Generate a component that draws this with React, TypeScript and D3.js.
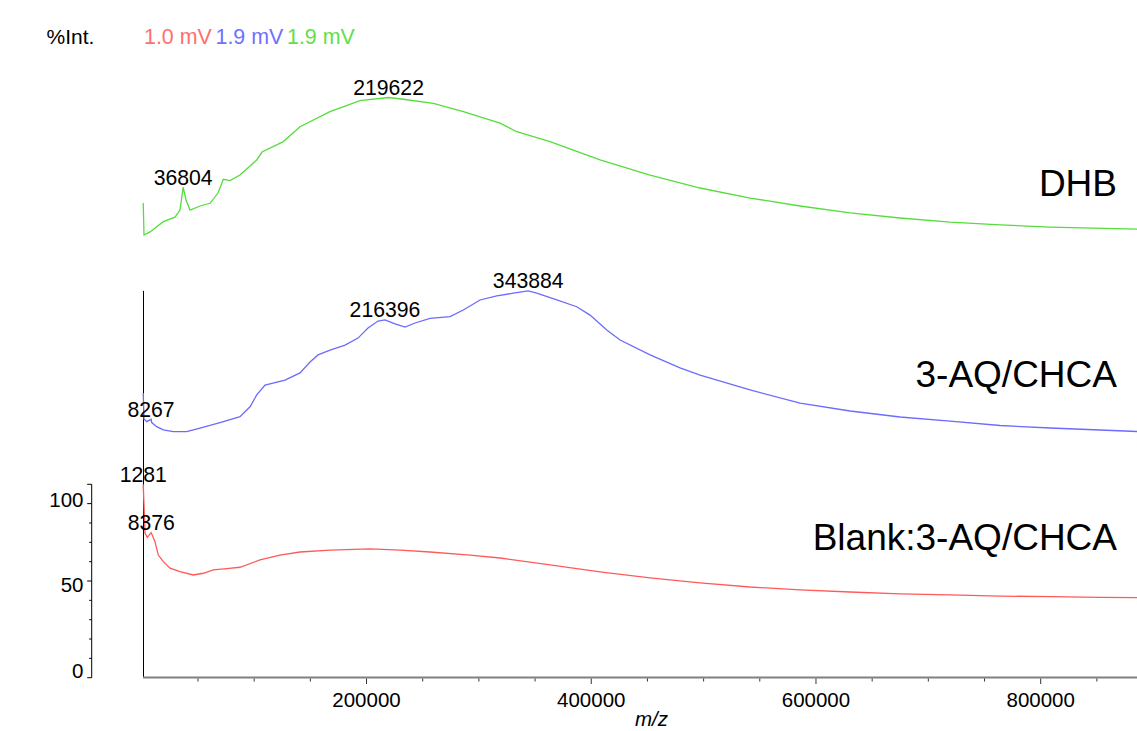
import React from "react";
import * as d3 from "d3";

// ---- data (m/z, %Int per trace) ----
const dhbMz = [1281, 1958, 7299, 19137, 29550, 34001, 36804, 39340, 42902, 51803, 60703, 67824, 72541, 78505, 87406, 102268, 106988, 125946, 140811, 167513, 194215, 219622, 232756, 259458, 286161, 318827, 333691, 363331, 407837, 452343, 496848, 541354, 585860, 630366, 674872, 719377, 763883, 808389, 885807];
const dhbInt = [45.5, 28.9, 30.5, 35.8, 38.1, 41.8, 53.6, 47.0, 41.8, 43.9, 45.3, 50.6, 57.7, 57.0, 59.9, 67.7, 71.8, 77.2, 84.9, 92.7, 98.4, 100, 99.1, 97.0, 92.7, 86.7, 82.3, 77.2, 67.7, 59.9, 53.2, 48.0, 43.9, 40.3, 37.7, 35.6, 34.1, 33.0, 31.9];

const aqMz = [1281, 1958, 4361, 8267, 8812, 13262, 19137, 28038, 39965, 51803, 69604, 87406, 96307, 102268, 109658, 127459, 140811, 149711, 156832, 167513, 180864, 192435, 201336, 210237, 216396, 225368, 234269, 243170, 256521, 274323, 286161, 301025, 315889, 330665, 343884, 351493, 369294, 387096, 398934, 413798, 425636, 452343, 479041, 496848, 541354, 585860, 630366, 674872, 719377, 763883, 808389, 885807];
const aqInt = [47.2, 33.8, 32.4, 33.6, 31.9, 29.8, 28.1, 27.2, 27.2, 29.0, 31.9, 35.0, 40.1, 46.2, 51.3, 53.9, 57.6, 63.2, 66.9, 69.4, 72.0, 75.6, 80.8, 84.4, 85.0, 82.9, 81.3, 83.4, 85.8, 86.7, 90.1, 95.3, 97.4, 98.8, 100, 98.8, 95.3, 91.8, 87.5, 79.8, 74.6, 66.9, 60.2, 56.5, 48.8, 42.0, 37.9, 34.8, 32.7, 30.4, 29.1, 27.3];

const blankMz = [1281, 1958, 2848, 4895, 8376, 11749, 14686, 19137, 25100, 34001, 45839, 54740, 63641, 75568, 87406, 105207, 123009, 140811, 167513, 203116, 229819, 256521, 292124, 318827, 363331, 407837, 452343, 496848, 541354, 585860, 630366, 674872, 719377, 763883, 808389, 852872, 885807];
const blankInt = [100, 89.3, 74.7, 72.6, 75.0, 70.3, 63.4, 60.0, 56.6, 54.8, 53.1, 54.0, 55.7, 56.4, 57.1, 60.9, 63.4, 65.0, 66.0, 66.6, 66.0, 65.0, 63.4, 61.9, 58.3, 54.7, 51.6, 49.0, 46.9, 45.4, 44.3, 43.3, 42.8, 42.2, 41.9, 41.5, 41.4];

const dhbPeaks = [36804, 219622];
const aqPeaks = [8267, 216396, 343884];
const blankPeaks = [1281, 8376];

const traceNames = ["DHB", "3-AQ/CHCA", "Blank:3-AQ/CHCA"];
const legendTexts = ["1.0 mV", "1.9 mV", "1.9 mV"];

const xMajorTicks = [200000, 400000, 600000, 800000];
const xMinorTicks = [50000, 100000, 150000, 250000, 300000, 350000, 450000, 500000, 550000, 650000, 700000, 750000, 850000];
const yTicks = [0, 10, 20, 30, 40, 50, 60, 70, 80, 90, 100];
const yLabels = [100, 50, 0];

// ---- layout ----
const W = 1137;
const H = 731;
const PANEL_H = 193.4;
const FONT = "'Liberation Sans', Arial, sans-serif";

const RED = "#ff5a5a";
const BLUE = "#6b6bff";
const GREEN = "#55dd3c";

const x = d3.scaleLinear().domain([0, 800000]).range([141.8, 1040.7]);

function panelScale(bottom: number) {
  return d3.scaleLinear().domain([0, 100]).range([bottom, bottom - PANEL_H]);
}

const panels = [
  { mz: dhbMz, it: dhbInt, peaks: dhbPeaks, color: GREEN, bottom: 290.9, name: traceNames[0], nameDy: 95, axis: false },
  { mz: aqMz, it: aqInt, peaks: aqPeaks, color: BLUE, bottom: 484.3, name: traceNames[1], nameDy: 97.3, axis: true },
  { mz: blankMz, it: blankInt, peaks: blankPeaks, color: RED, bottom: 677.7, name: traceNames[2], nameDy: 127.7, axis: true },
];

function interp(mz: number[], it: number[], m: number) {
  const i = mz.indexOf(m);
  if (i >= 0) return it[i];
  return d3.scaleLinear().domain(mz).range(it)(m);
}

export default function App() {
  const redY = panelScale(677.7);
  const axisX = 91.7;
  const labelBase: Record<number, number> = { 100: 506.5, 50: 591.5, 0: 677.5 };
  return (
    <svg width={W} height={H} style={{ position: "absolute", left: 0, top: 0, background: "#fff" }} fontFamily={FONT}>
      {/* legend */}
      <text x={46.5} y={44} fontSize={21} fill="#000">%Int.</text>
      <text x={144} y={44} fontSize={21.4} fill="#ff6e6e">{legendTexts[0]}</text>
      <text x={215.5} y={44} fontSize={21.4} fill="#7070ff">{legendTexts[1]}</text>
      <text x={287} y={44} fontSize={21.4} fill="#5fe04a">{legendTexts[2]}</text>

      {/* y axis */}
      <line x1={axisX} x2={axisX} y1={redY(100)} y2={redY(0)} stroke="#000" strokeWidth={1} />
      {yTicks.map((t) => {
        const long = t === 0 || t === 100 || t === 50 || t === 90;
        return (
          <line key={t} x1={axisX - (long ? 4.5 : 2.5)} x2={axisX} y1={redY(t)} y2={redY(t)} stroke="#000" strokeWidth={1} />
        );
      })}
      {yLabels.map((t) => (
        <text key={t} x={83.5} y={labelBase[t]} fontSize={20.5} textAnchor="end" fill="#000">{t}</text>
      ))}

      {/* vertical black axis line for lower panels */}
      <line x1={143.5} x2={143.5} y1={290.9} y2={677.7} stroke="#000" strokeWidth={1} />

      {/* x axis */}
      <line x1={143} x2={W} y1={677.5} y2={677.5} stroke="#808080" strokeWidth={2} />
      {xMinorTicks.map((t) => (
        <line key={t} x1={x(t)} x2={x(t)} y1={678.5} y2={681.5} stroke="#333" strokeWidth={1} />
      ))}
      {xMajorTicks.map((t) => (
        <g key={t}>
          <line x1={x(t)} x2={x(t)} y1={678.5} y2={684} stroke="#333" strokeWidth={1} />
          <text x={x(t)} y={706.5} fontSize={20.5} textAnchor="middle" fill="#000">{t}</text>
        </g>
      ))}
      <text x={651.5} y={726} fontSize={20.5} fontStyle="italic" textAnchor="middle" fill="#000">m/z</text>

      {/* traces */}
      {panels.map((p, k) => {
        const y = panelScale(p.bottom);
        const pts = p.mz.map((m, i) => [m, p.it[i]] as [number, number]);
        const line = d3.line<[number, number]>().x((d) => x(d[0])).y((d) => y(d[1]));
        return (
          <g key={k}>
            <path d={line(pts) || ""} fill="none" stroke={p.color} strokeWidth={1.3} />
            {p.peaks.map((m) => (
              <text key={m} x={x(m)} y={y(interp(p.mz, p.it, m)) - 2.5} fontSize={21.2} textAnchor="middle" fill="#000">{m}</text>
            ))}
            <text x={1117} y={p.bottom - p.nameDy} fontSize={37} textAnchor="end" fill="#000">{p.name}</text>
          </g>
        );
      })}
    </svg>
  );
}
